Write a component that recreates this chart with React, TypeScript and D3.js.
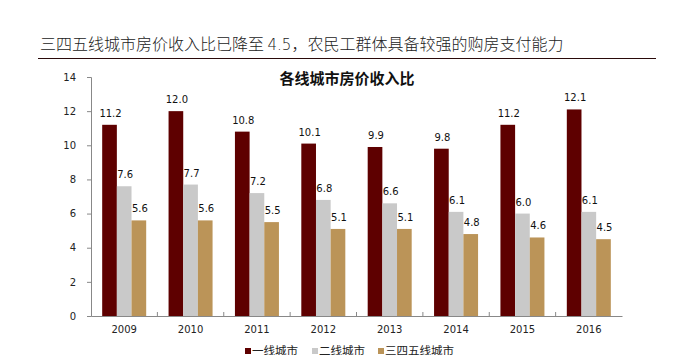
import { useEffect, useRef } from "react";
import * as d3 from "d3";

const years = ["2009", "2010", "2011", "2012", "2013", "2014", "2015", "2016"];
const tier1 = [11.2, 12.0, 10.8, 10.1, 9.9, 9.8, 11.2, 12.1];
const tier2 = [7.6, 7.7, 7.2, 6.8, 6.6, 6.1, 6.0, 6.1];
const tier345 = [5.6, 5.6, 5.5, 5.1, 5.1, 4.8, 4.6, 4.5];
const seriesNames = ["一线城市", "二线城市", "三四五线城市"];
const colors = ["#5e0000", "#c9c9c9", "#bb9458"];
const yTicks = [0, 2, 4, 6, 8, 10, 12, 14];

export default function App() {
  const ref = useRef<SVGSVGElement>(null);

  useEffect(() => {
    if (!ref.current) return;
    const svg = d3.select(ref.current);
    svg.selectAll("*").remove();

    const width = 678;
    const height = 363;
    const margin = { top: 77, right: 56, bottom: 47, left: 91 };

    svg.append("rect").attr("width", width).attr("height", height).attr("fill", "#fff");

    // Headline
    const head = svg
      .append("text")
      .attr("x", 40)
      .attr("y", 50)
      .attr("font-family", "Noto Sans CJK SC")
      .attr("font-weight", 300)
      .attr("font-size", "16px")
      .attr("fill", "#222");
    head.append("tspan").text("三四五线城市房价收入比已降至 ");
    head.append("tspan").attr("font-family", "DejaVu Sans").attr("font-size", "15px").text("4.5");
    head.append("tspan").text("，农民工群体具备较强的购房支付能力");

    svg
      .append("line")
      .attr("x1", 38)
      .attr("x2", 656)
      .attr("y1", 58.5)
      .attr("y2", 58.5)
      .attr("stroke", "#2a0a0a")
      .attr("stroke-width", 1);

    const x = d3
      .scaleBand<string>()
      .domain(years)
      .range([margin.left, width - margin.right]);

    const y = d3
      .scaleLinear()
      .domain([0, 14])
      .range([height - margin.bottom, margin.top]);

    const inner = d3.scaleBand<number>().domain([0, 1, 2]).range([0, 44]);

    // Chart title
    svg
      .append("text")
      .attr("x", 347)
      .attr("y", 84)
      .attr("text-anchor", "middle")
      .attr("font-family", "Noto Sans CJK SC")
      .attr("font-weight", "bold")
      .attr("font-size", "15px")
      .attr("fill", "#111")
      .text("各线城市房价收入比");

    const series = [tier1, tier2, tier345];

    series.forEach((vals, si) => {
      const g = svg.append("g");
      g.selectAll("rect")
        .data(vals)
        .join("rect")
        .attr("x", (_, i) => x(years[i])! + x.bandwidth() / 2 - 22 + inner(si)!)
        .attr("width", inner.bandwidth())
        .attr("y", (d) => y(d))
        .attr("height", (d) => y(0) - y(d))
        .attr("fill", colors[si]);

      g.selectAll("text")
        .data(vals)
        .join("text")
        .attr("x", (_, i) => x(years[i])! + x.bandwidth() / 2 - 22 + inner(si)! + inner.bandwidth() / 2 + 1)
        .attr("y", (d) => y(d) - 8)
        .attr("text-anchor", "middle")
        .attr("font-family", "DejaVu Sans")
        .attr("font-size", "10px")
        .attr("fill", "#111")
        .text((d) => d.toFixed(1));
    });

    // Axes
    const yAxis = svg
      .append("g")
      .attr("transform", `translate(${margin.left},0)`)
      .call(d3.axisLeft(y).tickValues(yTicks).tickSize(4).tickFormat((d) => `${d}`));
    yAxis.select(".domain").attr("stroke", "#888");
    yAxis.selectAll(".tick line").attr("stroke", "#888");
    yAxis
      .selectAll(".tick text")
      .attr("x", -15)
      .attr("font-family", "DejaVu Sans")
      .attr("font-size", "10px")
      .attr("fill", "#222");

    const xAxis = svg
      .append("g")
      .attr("transform", `translate(0,${y(0)})`)
      .call(d3.axisBottom(x).tickSize(0).tickPadding(10));
    xAxis.select(".domain").attr("stroke", "#888");
    xAxis
      .selectAll(".tick text")
      .attr("font-family", "DejaVu Sans")
      .attr("font-size", "10px")
      .attr("fill", "#222");

    // category separator ticks
    svg
      .append("g")
      .selectAll("line")
      .data(years.slice(1))
      .join("line")
      .attr("x1", (d) => x(d)!)
      .attr("x2", (d) => x(d)!)
      .attr("y1", y(0))
      .attr("y2", y(0) - 4)
      .attr("stroke", "#888");

    // Legend
    const legendX = [245, 312, 378];
    const lg = svg.append("g");
    seriesNames.forEach((name, i) => {
      lg.append("rect")
        .attr("x", legendX[i])
        .attr("y", 348)
        .attr("width", 6)
        .attr("height", 6)
        .attr("fill", colors[i]);
      lg.append("text")
        .attr("x", legendX[i] + 7)
        .attr("y", 355)
        .attr("font-family", "Noto Sans CJK SC")
        .attr("font-size", "11.5px")
        .attr("fill", "#222")
        .text(name);
    });
  }, []);

  return (
    <div style={{ margin: -8 }}>
      <svg ref={ref} width={678} height={363} style={{ display: "block" }} />
    </div>
  );
}
